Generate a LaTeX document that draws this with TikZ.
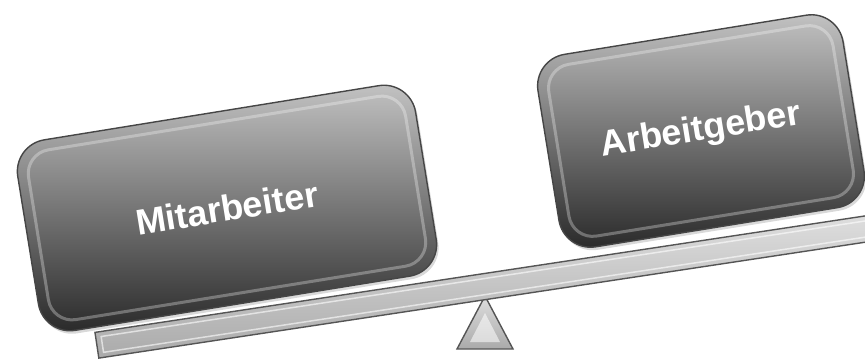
\documentclass[tikz,border=0pt]{standalone}
\usepackage{fontspec}
\setmainfont{Liberation Sans}
\usetikzlibrary{shadows}
\definecolor{boxtop}{RGB}{196,196,196}
\definecolor{boxmid}{RGB}{142,142,142}
\definecolor{boxbot}{RGB}{40,40,40}
\definecolor{rim}{RGB}{70,70,70}
\definecolor{beamlight}{RGB}{222,222,222}
\definecolor{beamdark}{RGB}{170,170,170}
\definecolor{beamrim}{RGB}{85,85,85}
\tikzset{
  box/.style={rectangle, rounded corners=32pt, draw=rim, line width=1.4pt,
    top color=boxtop, middle color=boxmid, bottom color=boxbot,
    font=\bfseries\fontsize{36}{40}\selectfont, text=white, rotate=9.2,
    drop shadow={opacity=0.3, shadow xshift=2pt, shadow yshift=-3pt}},
  bevel/.style={draw=white, opacity=0.3, line width=3pt, rounded corners=24pt},
  beambar/.style={draw=beamrim, line width=1.4pt, top color=beamlight, bottom color=beamdark},
  beambevel/.style={draw=white, opacity=0.6, line width=1.5pt},
  fulcrum/.style={draw=beamrim, line width=1.4pt, top color=beamlight, bottom color=beamdark},
  fulcrumin/.style={fill=white, opacity=0.55, draw=none}
}
\begin{document}
\begin{tikzpicture}[x=1pt,y=-1pt]
\useasboundingbox (0,0) rectangle (865,362);
\clip (0,0) rectangle (865,362);
% fulcrum
\draw[fulcrum] (457,349) -- (485,296) -- (513,349) -- cycle;
\fill[fulcrumin] (470,342) -- (485,313) -- (500,342) -- cycle;
% beam
\begin{scope}[shift={(482,287)}, rotate=8.6]
  \draw[beambar] (-389.5,-13) rectangle (395,13);
  \draw[beambevel] (-384,-8) rectangle (390,8);
\end{scope}
% boxes
\node[box, minimum width=403pt, minimum height=193pt] (mit) at (227,208) {Mitarbeiter};
\begin{scope}[shift={(mit.center)}, rotate=9.2]
  \draw[bevel] (-191,-86) rectangle (191,86);
\end{scope}
\node[box, minimum width=309pt, minimum height=195pt] (arb) at (701,131) {Arbeitgeber};
\begin{scope}[shift={(arb.center)}, rotate=9.2]
  \draw[bevel] (-144,-87) rectangle (144,87);
\end{scope}
\end{tikzpicture}
\end{document}
